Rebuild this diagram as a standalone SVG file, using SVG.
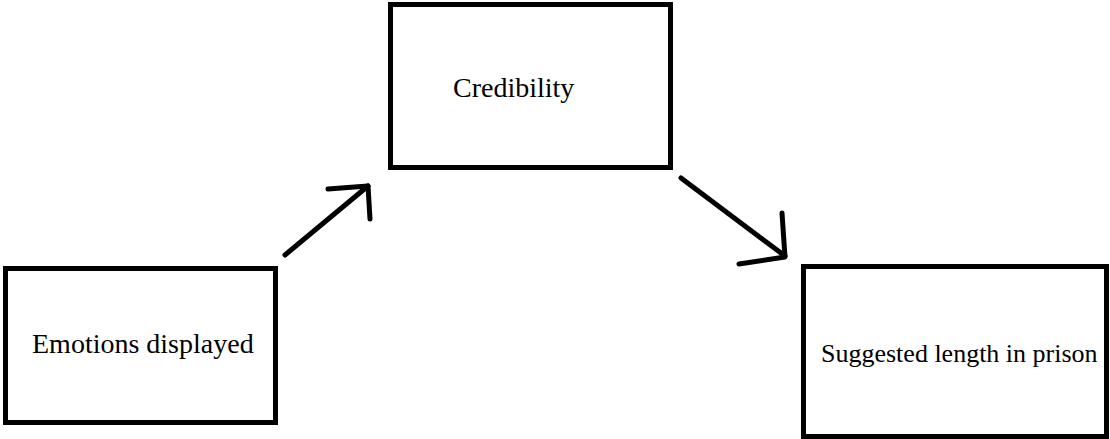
<svg xmlns="http://www.w3.org/2000/svg" width="1110" height="439" viewBox="0 0 1110 439">
<style>
.box{fill:#fff;stroke:#000;stroke-width:5}
.lbl{font-family:"Liberation Serif","Times New Roman",serif;font-size:28px;fill:#000}
.con{fill:none;stroke:#000;stroke-width:5;stroke-linecap:round;stroke-linejoin:round}
</style>
<rect width="1110" height="439" fill="#fff"/>
<g id="node-emotions">
<rect class="box" x="5.5" y="268.5" width="270" height="154"/>
<text class="lbl" x="32" y="353">Emotions displayed</text>
</g>
<g id="node-credibility">
<rect class="box" x="390.5" y="4.5" width="280" height="163"/>
<text class="lbl" x="453" y="97">Credibility</text>
</g>
<g id="node-prison">
<rect class="box" x="803.5" y="266.5" width="303" height="170"/>
<text class="lbl" x="821" y="362" style="font-size:26px">Suggested length in prison</text>
</g>
<g id="connectors">
<path class="con" d="M285 255 L368 186"/>
<path class="con" d="M328 189 L368 186 L370 219"/>
<path class="con" d="M681 178 L785 256"/>
<path class="con" d="M782 213 L785 257 L739 264"/>
</g>
</svg>
